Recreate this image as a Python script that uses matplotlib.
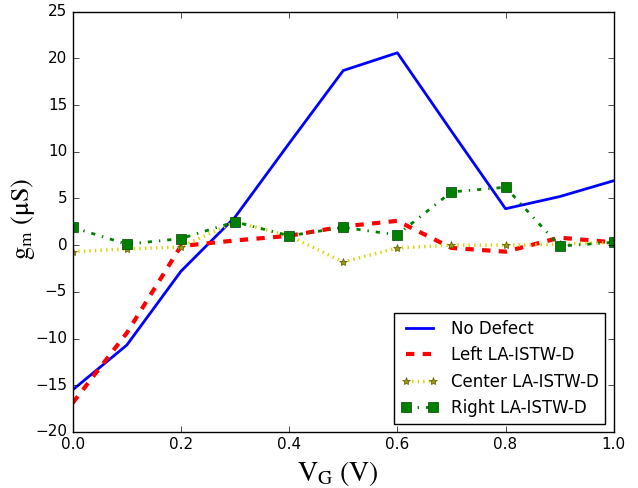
import matplotlib
matplotlib.use('Agg')
import matplotlib.pyplot as plt

plt.style.use('classic')
plt.rcParams['mathtext.fontset'] = 'stix'

vg = [0.0, 0.1, 0.2, 0.3, 0.4, 0.5, 0.6, 0.7, 0.8, 0.9, 1.0]
gm_no_defect = [-15.5, -10.7, -2.8, 3.0, 10.9, 18.7, 20.6, 12.2, 3.9, 5.2, 6.9]
gm_left = [-16.9, -9.4, -0.1, 0.5, 1.0, 2.0, 2.6, -0.3, -0.7, 0.8, 0.3]
gm_center = [-0.7, -0.4, -0.2, 2.5, 1.0, -1.8, -0.3, 0.0, 0.0, 0.1, 0.3]
gm_right = [1.9, 0.1, 0.7, 2.5, 1.0, 1.9, 1.1, 5.7, 6.2, -0.1, 0.3]

fig = plt.figure(figsize=(6.38, 4.88), dpi=100, facecolor='white')
ax = fig.add_axes([0.114, 0.115, 0.848, 0.861])

ax.plot(vg, gm_no_defect, 'b-', lw=2, label='No Defect')
ax.plot(vg, gm_left, 'r--', lw=3, label='Left LA-ISTW-D')
ax.plot(vg, gm_center, '*:', color='#d8d800', lw=2.5, ms=6,
        mfc='#9a9a10', mec='#5a5a00', label='Center LA-ISTW-D')
ax.plot(vg, gm_right, 'gs-.', lw=2, ms=6.5, mec='#004000', label='Right LA-ISTW-D')

ax.set_xlim(0, 1)
ax.set_ylim(-20, 25)
ax.set_xticks([0.0, 0.2, 0.4, 0.6, 0.8, 1.0])
ax.set_yticks(range(-20, 30, 5))
ax.tick_params(labelsize=11)

ax.set_xlabel(r'$\mathrm{V_G\ (V)}$', fontsize=20)
ax.set_ylabel(r'$\mathrm{g_m\ (μS)}$', fontsize=19)
ax.yaxis.set_label_coords(-0.066, 0.507)
ax.xaxis.set_label_coords(0.49, -0.064)

ax.legend(loc='lower right', fontsize=12, numpoints=2, handlelength=2.2)

fig.savefig('out.png', dpi=100, facecolor='white')
